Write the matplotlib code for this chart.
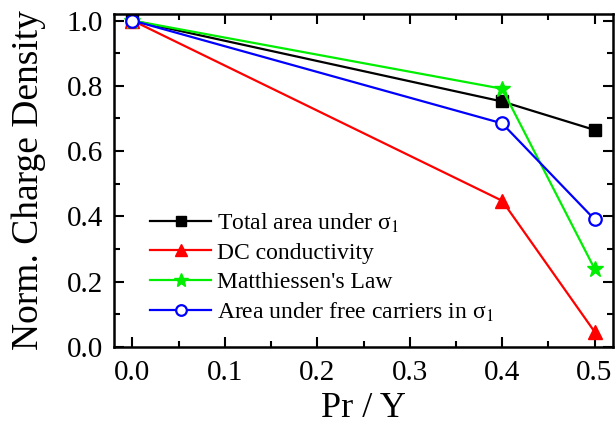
import matplotlib
matplotlib.use('Agg')
import matplotlib.pyplot as plt
from matplotlib.ticker import MultipleLocator

plt.rcParams['font.family'] = ['Liberation Serif', 'DejaVu Serif']
plt.rcParams['mathtext.fontset'] = 'stix'

# Data
x = [0.0, 0.4, 0.5]
total_area = [1.0, 0.752, 0.665]
dc_cond = [1.0, 0.448, 0.047]
matthiessen = [1.0, 0.791, 0.240]
free_carriers = [1.0, 0.685, 0.391]

fig = plt.figure(figsize=(6.16, 4.28), dpi=100)
ax = fig.add_axes([114 / 616, 1 - 347 / 428, 499 / 616, 333 / 428])

ax.plot(x, total_area, color='black', marker='s', ms=9, lw=1.6,
        label='Total area under σ$_1$')
ax.plot(x, dc_cond, color='red', marker='^', ms=10, lw=1.6,
        label='DC conductivity')
ax.plot(x, matthiessen, color='#00ee00', marker='*', ms=12, lw=1.6,
        label="Matthiessen's Law")
ax.plot(x, free_carriers, color='blue', marker='o', ms=9, lw=1.6,
        markerfacecolor='white', markeredgewidth=1.6,
        label='Area under free carriers in σ$_1$')

ax.set_xlim(-0.02, 0.52)
ax.set_ylim(0.0, 1.02)
ax.xaxis.set_major_locator(MultipleLocator(0.1))
ax.xaxis.set_minor_locator(MultipleLocator(0.05))
ax.yaxis.set_major_locator(MultipleLocator(0.2))
ax.yaxis.set_minor_locator(MultipleLocator(0.1))
ax.xaxis.set_major_formatter(plt.FormatStrFormatter('%.1f'))
ax.yaxis.set_major_formatter(plt.FormatStrFormatter('%.1f'))
ax.tick_params(which='both', direction='in', top=True, right=True, width=1.5)
ax.tick_params(which='major', length=7, labelsize=21)
ax.tick_params(axis='x', which='major', pad=9)
ax.tick_params(axis='y', which='major', pad=8)
ax.tick_params(which='minor', length=4)
for s in ax.spines.values():
    s.set_linewidth(1.8)

ax.set_xlabel('Pr / Y', fontsize=26, labelpad=5)
ax.set_ylabel('Norm. Charge Density', fontsize=27, labelpad=15)

ax.legend(loc='lower left', bbox_to_anchor=(0.072, 0.07), frameon=False,
          fontsize=17, handlelength=2.6, handletextpad=0.25, labelspacing=0.32,
          borderpad=0, borderaxespad=0, markerscale=0.85)

fig.savefig('out.png', dpi=100)
